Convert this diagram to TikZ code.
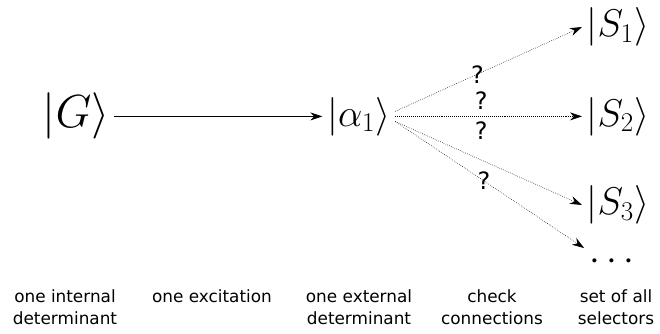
\RequirePackage{fix-cm}
\documentclass[tikz,border=0pt]{standalone}
\usepackage{fontspec}
\newfontfamily\labelfont{DejaVu Sans}
\usetikzlibrary{arrows.meta}

\begin{document}
\begin{tikzpicture}[
font=\labelfont\fontsize{12}{16}\selectfont,
bigket/.style={font=\fontsize{33}{40}\selectfont},
ket/.style={font=\fontsize{27.5}{33}\selectfont},
caption/.style={align=center, anchor=north},
query/.style={font=\labelfont\fontsize{17}{20}\selectfont},
arrow/.style={-{Stealth[length=3mm,width=2mm]}, line width=0.6pt},
probe/.style={-{Stealth[length=3mm,width=2mm]}, densely dotted, line width=0.4pt}
]
\useasboundingbox (0,0) rectangle (16.5,8.35);

\node[bigket] (g) at (1.90,5.44) {$|G\rangle$};
\node[ket] (a1) at (8.97,5.44) {$|\alpha_1\rangle$};

\node[ket] (s1) at (15.45,7.675) {$|S_1\rangle$};
\node[ket] (s2) at (15.45,5.44) {$|S_2\rangle$};
\node[ket] (s3) at (15.45,3.225) {$|S_3\rangle$};
\node[ket] (dots) at (15.29,1.81) {$\cdots$};

\draw[arrow] (g) -- (a1);

\draw[probe] (a1.8) -- node[query, pos=0.44] (q1) {?} (s1.west);
\draw[probe] (a1.east) -- node[query, pos=0.46, above=0.5mm] (q2) {?} node[query, pos=0.46, below=0mm] (q3) {?} (s2.west);
\draw[probe] (a1.-8) -- (s3.west);
\draw[probe] (a1.-8) -- node[query, pos=0.47] (q4) {?} (dots.north west);

\node[caption] (l1) at (1.625,1.24) {one internal\\determinant};
\node[caption] (l2) at (5.3,1.24) {one excitation};
\node[caption] (l3) at (8.975,1.24) {one external\\determinant};
\node[caption] (l4) at (12.3,1.24) {check\\connections};
\node[caption] (l5) at (15.4,1.24) {set of all\\selectors};
\end{tikzpicture}
\end{document}
